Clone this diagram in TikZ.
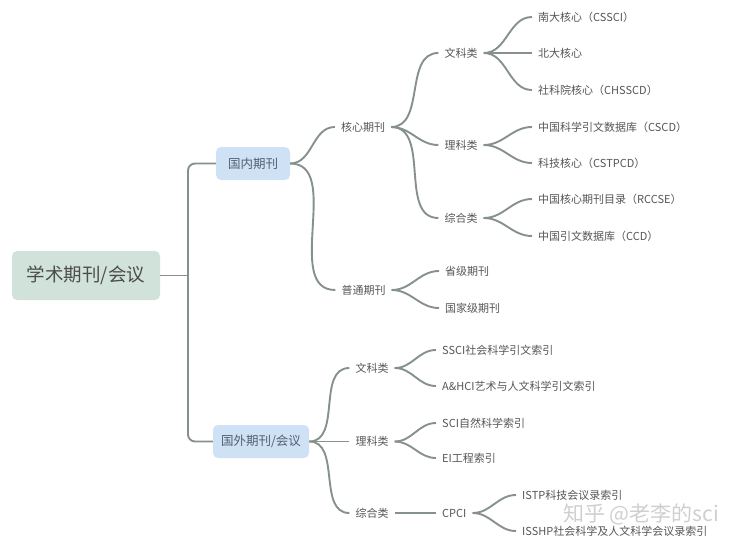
\documentclass[tikz,border=0pt]{standalone}
\usepackage{fontspec}
\setmainfont{Noto Sans CJK SC}
\definecolor{linec}{HTML}{85918A}
\definecolor{txtc}{HTML}{555555}
\definecolor{rootfill}{HTML}{D0E2D9}
\definecolor{bluefill}{HTML}{CFE2F5}
\definecolor{bluetxt}{HTML}{4F6070}
\definecolor{wmc}{HTML}{CFCFCF}
\tikzset{
  conn/.style={draw=linec, line width=1.9pt},
  rootbox/.style={fill=rootfill, rounded corners=5pt, minimum width=148pt, minimum height=49pt, text=txtc!90!black, font=\fontsize{18.5}{20}\selectfont, inner sep=0pt},
  bluebox/.style={fill=bluefill, rounded corners=5pt, minimum height=33pt, text=bluetxt, font=\fontsize{12.5}{14}\selectfont, inner sep=0pt},
  lbl/.style={text=txtc, font=\fontsize{11}{13}\selectfont, inner xsep=6pt, inner ysep=2pt},
  leaf/.style={lbl, anchor=west},
}
\begin{document}
\begin{tikzpicture}[x=1pt,y=-1pt]
\useasboundingbox (0,0) rectangle (750,547);
% root and level 1
\node[rootbox] (root) at (86,275.5) {学术期刊/会议};
\node[bluebox, minimum width=74pt] (dn) at (253,163.5) {国内期刊};
\node[bluebox, minimum width=96pt] (gw) at (261,441.5) {国外期刊/会议};
\coordinate (jv) at (188,275.5);
\draw[conn] (root.east) -- (jv);
\draw[conn, rounded corners=7pt] (dn.west) -| (jv) |- (gw.west);

% domestic
\node[lbl] (hx) at (363,127) {核心期刊};
\node[lbl] (pt) at (363.5,290) {普通期刊};
\draw[conn] (dn.east) to[out=0,in=180] (hx.west);
\draw[conn] (dn.east) to[out=0,in=180] (pt.west);

\node[lbl] (wk) at (461,53) {文科类};
\node[lbl] (lk) at (461,145) {理科类};
\node[lbl] (zh) at (461,218) {综合类};
\foreach \c in {wk,lk,zh} \draw[conn] (hx.east) to[out=0,in=180] (\c.west);

\node[leaf] (nd) at (532,17) {南大核心（CSSCI）};
\node[leaf] (bd) at (532,53) {北大核心};
\node[leaf] (sk) at (532,90) {社科院核心（CHSSCD）};
\node[leaf] (cscd) at (532,127) {中国科学引文数据库（CSCD）};
\node[leaf] (kj) at (532,163) {科技核心（CSTPCD）};
\node[leaf] (rccse) at (532,199) {中国核心期刊目录（RCCSE）};
\node[leaf] (ccd) at (532,236) {中国引文数据库（CCD）};
\foreach \c in {nd,bd,sk} \draw[conn] (wk.east) to[out=0,in=180] (\c.west);
\foreach \c in {cscd,kj} \draw[conn] (lk.east) to[out=0,in=180] (\c.west);
\foreach \c in {rccse,ccd} \draw[conn] (zh.east) to[out=0,in=180] (\c.west);

\node[leaf] (sj) at (439,271) {省级期刊};
\node[leaf] (gj) at (439,308) {国家级期刊};
\foreach \c in {sj,gj} \draw[conn] (pt.east) to[out=0,in=180] (\c.west);

% foreign
\node[lbl] (fwk) at (372,368) {文科类};
\node[lbl] (flk) at (372,441.5) {理科类};
\node[lbl] (fzh) at (372,513) {综合类};
\foreach \c in {fwk,flk,fzh} \draw[conn] (gw.east) to[out=0,in=180] (\c.west);

\node[leaf] (ssci) at (436,350) {SSCI社会科学引文索引};
\node[leaf] (ahci) at (436,386) {A\&HCI艺术与人文科学引文索引};
\node[leaf] (sci) at (436,423) {SCI自然科学索引};
\node[leaf] (ei) at (436,458) {EI工程索引};
\foreach \c in {ssci,ahci} \draw[conn] (fwk.east) to[out=0,in=180] (\c.west);
\foreach \c in {sci,ei} \draw[conn] (flk.east) to[out=0,in=180] (\c.west);

\node[leaf] (cpci) at (436,513) {CPCI};
\draw[conn] (fzh.east) -- (cpci.west);
\node[leaf] (istp) at (516,495) {ISTP科技会议录索引};
\node[leaf] (isshp) at (516,531) {ISSHP社会科学及人文科学会议录索引};
\foreach \c in {istp,isshp} \draw[conn] (cpci.east) to[out=0,in=180] (\c.west);

% watermark
\node[text=wmc, font=\fontsize{21}{22}\selectfont, anchor=west, inner sep=0pt] (wm) at (563,514) {知乎 @老李的sci};
\end{tikzpicture}
\end{document}
